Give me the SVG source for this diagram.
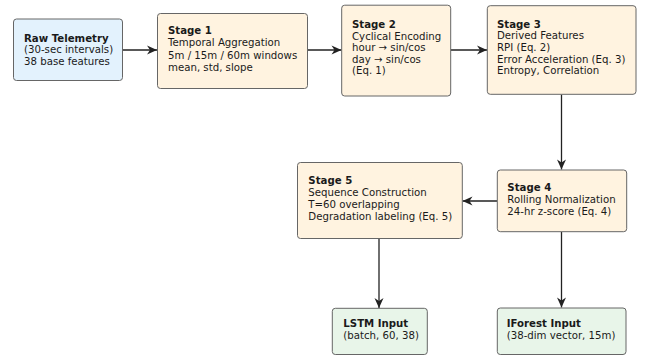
<svg xmlns="http://www.w3.org/2000/svg" width="646" height="356" viewBox="0 0 646 356">
<style>
text{font-family:"DejaVu Sans",Verdana,sans-serif;font-size:10.2px;fill:#1a1a1a}
.b{font-weight:bold}
.box{stroke:#666;stroke-width:1}
.blue{fill:#E3F2FD}
.tan{fill:#FFF3E0}
.green{fill:#E8F5E9}
.conn{stroke:#222;stroke-width:1.3;fill:none;marker-end:url(#ah)}
</style>
<defs>
<marker id="ah" markerUnits="userSpaceOnUse" markerWidth="12" markerHeight="12" viewBox="-11 -6 12 12" refX="0" refY="0" orient="auto">
<path d="M0,0 L-10,-4.5 L-7,0 L-10,4.5 Z" fill="#222"/>
</marker>
</defs>
<rect width="646" height="356" fill="#fff"/>
<g id="connectors">
<line class="conn" x1="122.5" y1="50" x2="157" y2="50"/>
<line class="conn" x1="307.5" y1="50" x2="341.5" y2="50"/>
<line class="conn" x1="450.5" y1="50" x2="487" y2="50"/>
<line class="conn" x1="561.5" y1="94.5" x2="561.5" y2="169.5"/>
<line class="conn" x1="497" y1="201" x2="462.5" y2="201"/>
<line class="conn" x1="379" y1="238.5" x2="379" y2="308"/>
<line class="conn" x1="561.5" y1="232" x2="561.5" y2="307.5"/>
</g>
<g id="raw">
<rect class="box blue" x="13.5" y="19" width="109" height="61.5" rx="3"/>
<text x="24" y="41.7" class="b">Raw Telemetry</text>
<text x="24" y="53.4">(30-sec intervals)</text>
<text x="24" y="65.1">38 base features</text>
</g>
<g id="stage1">
<rect class="box tan" x="157.5" y="13.5" width="150" height="75" rx="3"/>
<text x="168" y="33.5" class="b">Stage 1</text>
<text x="168" y="46">Temporal Aggregation</text>
<text x="168" y="58.5">5m / 15m / 60m windows</text>
<text x="168" y="71">mean, std, slope</text>
</g>
<g id="stage2">
<rect class="box tan" x="341.7" y="5.2" width="109" height="90.8" rx="3"/>
<text x="352" y="28" class="b">Stage 2</text>
<text x="352" y="39.6">Cyclical Encoding</text>
<text x="352" y="51.2">hour → sin/cos</text>
<text x="352" y="62.8">day → sin/cos</text>
<text x="352" y="74.4">(Eq. 1)</text>
</g>
<g id="stage3">
<rect class="box tan" x="487.3" y="5.7" width="148.7" height="88.6" rx="3"/>
<text x="497" y="27.6" class="b">Stage 3</text>
<text x="497" y="39.3">Derived Features</text>
<text x="497" y="51">RPI (Eq. 2)</text>
<text x="497" y="62.7">Error Acceleration (Eq. 3)</text>
<text x="497" y="74.4">Entropy, Correlation</text>
</g>
<g id="stage4">
<rect class="box tan" x="497.3" y="170" width="129.4" height="61.7" rx="3"/>
<text x="507.3" y="190.7" class="b">Stage 4</text>
<text x="507.3" y="202.6">Rolling Normalization</text>
<text x="507.3" y="214.5">24-hr z-score (Eq. 4)</text>
</g>
<g id="stage5">
<rect class="box tan" x="297.5" y="162.5" width="164.8" height="76" rx="3"/>
<text x="308.3" y="184" class="b">Stage 5</text>
<text x="308.3" y="196">Sequence Construction</text>
<text x="308.3" y="208">T=60 overlapping</text>
<text x="308.3" y="220">Degradation labeling (Eq. 5)</text>
</g>
<g id="lstm">
<rect class="box green" x="332.3" y="308.3" width="95" height="46.2" rx="3"/>
<text x="343.3" y="326.6" class="b">LSTM Input</text>
<text x="343.3" y="338.6">(batch, 60, 38)</text>
</g>
<g id="iforest">
<rect class="box green" x="497.3" y="308" width="128.7" height="46.5" rx="3"/>
<text x="506.7" y="326.6" class="b">IForest Input</text>
<text x="506.7" y="338.6">(38-dim vector, 15m)</text>
</g>
</svg>
